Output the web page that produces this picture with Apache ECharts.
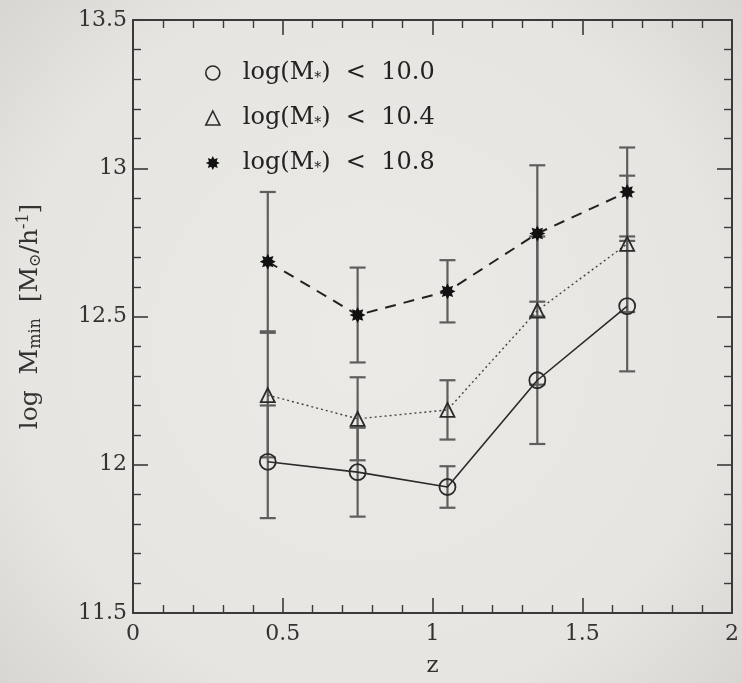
<!DOCTYPE html>
<html>
<head>
<meta charset="utf-8">
<script src="https://cdn.jsdelivr.net/npm/echarts@6/dist/echarts.min.js"></script>
<style>
  html, body { margin: 0; padding: 0; }
  #chart { width: 742px; height: 683px; }
</style>
</head>
<body>
<div id="chart"></div>
<script>
// Redshift bins
const z = [0.45, 0.75, 1.05, 1.35, 1.65];

// log M_min for the three stellar-mass thresholds, with 1-sigma errors
const mLt100 = [12.01, 11.975, 11.925, 12.285, 12.535];
const errLt100 = [0.19, 0.15, 0.07, 0.215, 0.22];

const mLt104 = [12.235, 12.155, 12.185, 12.52, 12.745];
const errLt104 = [0.21, 0.14, 0.10, 0.25, 0.23];

const mLt108 = [12.685, 12.505, 12.585, 12.78, 12.92];
const errLt108 = [0.235, 0.16, 0.105, 0.23, 0.15];

const seriesNames = ['log(M*) < 10.0', 'log(M*) < 10.4', 'log(M*) < 10.8'];
const xTickLabels = ['0', '0.5', '1', '1.5', '2'];
const yTickLabels = ['11.5', '12', '12.5', '13', '13.5'];

const SERIF = '"DejaVu Serif", "Liberation Serif", serif';
const INK = '#2a2a2a';
const BAR = '#5e5e5e';

const starPath = 'path://M0,-10 L2.3,-5.5 L7.07,-7.07 L5.5,-2.3 L10,0 L5.5,2.3 L7.07,7.07 L2.3,5.5 L0,10 L-2.3,5.5 L-7.07,7.07 L-5.5,2.3 L-10,0 L-5.5,-2.3 L-7.07,-7.07 L-2.3,-5.5 Z';

function pairs(ys) { return z.map((v, i) => [v, ys[i]]); }
function triples(ys, es) { return z.map((v, i) => [v, ys[i], es[i]]); }

// vertical error bar with caps
function errorBar(params, api) {
  const x = api.value(0), y = api.value(1), e = api.value(2);
  const top = api.coord([x, y + e]);
  const bot = api.coord([x, y - e]);
  const hw = 8;
  const st = { stroke: BAR, lineWidth: 2.2 };
  return {
    type: 'group',
    children: [
      { type: 'line', shape: { x1: top[0], y1: top[1], x2: bot[0], y2: bot[1] }, style: st },
      { type: 'line', shape: { x1: top[0] - hw, y1: top[1], x2: top[0] + hw, y2: top[1] }, style: st },
      { type: 'line', shape: { x1: bot[0] - hw, y1: bot[1], x2: bot[0] + hw, y2: bot[1] }, style: st }
    ]
  };
}

function makeAxis(kind, pos, showLabels) {
  const isX = kind === 'x';
  const labels = isX ? xTickLabels : yTickLabels;
  const base = isX ? 0 : 11.5;
  return {
    type: 'value',
    position: pos,
    min: isX ? 0 : 11.5,
    max: isX ? 2 : 13.5,
    interval: 0.5,
    axisLine: { show: true, onZero: false, lineStyle: { color: '#3a3a3a', width: 2 } },
    axisTick: { show: true, inside: true, length: 15, lineStyle: { color: '#3a3a3a', width: 1.6 } },
    minorTick: { show: true, splitNumber: 5, length: 8, lineStyle: { color: '#3a3a3a', width: 1.4 } },
    splitLine: { show: false },
    axisLabel: {
      show: showLabels,
      margin: isX ? 10 : 6,
      color: '#333',
      fontFamily: SERIF,
      fontSize: 22,
      formatter: v => labels[Math.round((v - base) / 0.5)]
    }
  };
}

const xBottom = Object.assign(makeAxis('x', 'bottom', true), {
  name: 'z', nameLocation: 'middle', nameGap: 42,
  nameTextStyle: { fontFamily: SERIF, fontSize: 23, color: '#333' }
});
const yLeft = Object.assign(makeAxis('y', 'left', true), {
  name: 'log  M{sub|min}  [M{sub|⊙}/h{sup|-1}]',
  nameLocation: 'middle', nameGap: 89, nameRotate: 90,
  nameTextStyle: {
    fontFamily: SERIF, fontSize: 25, color: '#333',
    rich: {
      sub: { fontFamily: SERIF, fontSize: 16, color: '#333', padding: [12, 0, 0, 0] },
      sup: { fontFamily: SERIF, fontSize: 16, color: '#333', padding: [0, 0, 12, 0] }
    }
  }
});

const hollow = { color: 'rgba(0,0,0,0)', borderColor: INK, borderWidth: 1.8 };

const chart = echarts.init(document.getElementById('chart'), null, { renderer: 'canvas' });
chart.setOption({
  animation: false,
  backgroundColor: {
    type: 'radial', x: 0.5, y: 0.5, r: 0.75,
    colorStops: [
      { offset: 0, color: '#ebeae6' },
      { offset: 0.7, color: '#e6e5e1' },
      { offset: 1, color: '#d6d5d1' }
    ]
  },
  grid: { left: 133, right: 4, top: 20, bottom: 65, containLabel: false },
  xAxis: [xBottom, makeAxis('x', 'top', false)],
  yAxis: [yLeft, makeAxis('y', 'right', false)],
  legend: {
    orient: 'vertical',
    left: 200,
    top: 56,
    itemGap: 21,
    itemWidth: 14,
    itemHeight: 14,
    itemTextGap: 6,
    textStyle: {
      fontFamily: SERIF, fontSize: 24, color: '#222',
      rich: {
        g: { fontFamily: SERIF, fontSize: 24, width: 18 },
        t: { fontFamily: SERIF, fontSize: 24, color: '#222' },
        s: { fontFamily: SERIF, fontSize: 14, color: '#222', padding: [10, 0, 0, 0] }
      }
    },
    formatter: n => '{g| }{t|log(M}{s|*}{t|)  <  ' + n.split('< ')[1] + '}',
    data: [
      { name: seriesNames[0], icon: 'circle', itemStyle: { color: 'rgba(0,0,0,0)', borderColor: INK, borderWidth: 1.6 } },
      { name: seriesNames[1], icon: 'triangle', itemStyle: { color: 'rgba(0,0,0,0)', borderColor: INK, borderWidth: 1.6 } },
      { name: seriesNames[2], icon: starPath, itemStyle: { color: '#111' } }
    ]
  },
  series: [
    { type: 'custom', name: 'e100', renderItem: errorBar, data: triples(mLt100, errLt100), z: 1, silent: true },
    { type: 'custom', name: 'e104', renderItem: errorBar, data: triples(mLt104, errLt104), z: 1, silent: true },
    { type: 'custom', name: 'e108', renderItem: errorBar, data: triples(mLt108, errLt108), z: 1, silent: true },
    {
      type: 'line', name: seriesNames[0], data: pairs(mLt100), z: 3,
      symbol: 'circle', symbolSize: 16, itemStyle: hollow,
      lineStyle: { color: INK, width: 1.6, type: 'solid' }
    },
    {
      type: 'line', name: seriesNames[1], data: pairs(mLt104), z: 3,
      symbol: 'triangle', symbolSize: 14, itemStyle: hollow,
      lineStyle: { color: '#444', width: 1.4, type: [2, 3] }
    },
    {
      type: 'line', name: seriesNames[2], data: pairs(mLt108), z: 3,
      symbol: starPath, symbolSize: 16, itemStyle: { color: '#111' },
      lineStyle: { color: '#222', width: 2, type: [11, 8] }
    }
  ]
});
</script>
</body>
</html>
